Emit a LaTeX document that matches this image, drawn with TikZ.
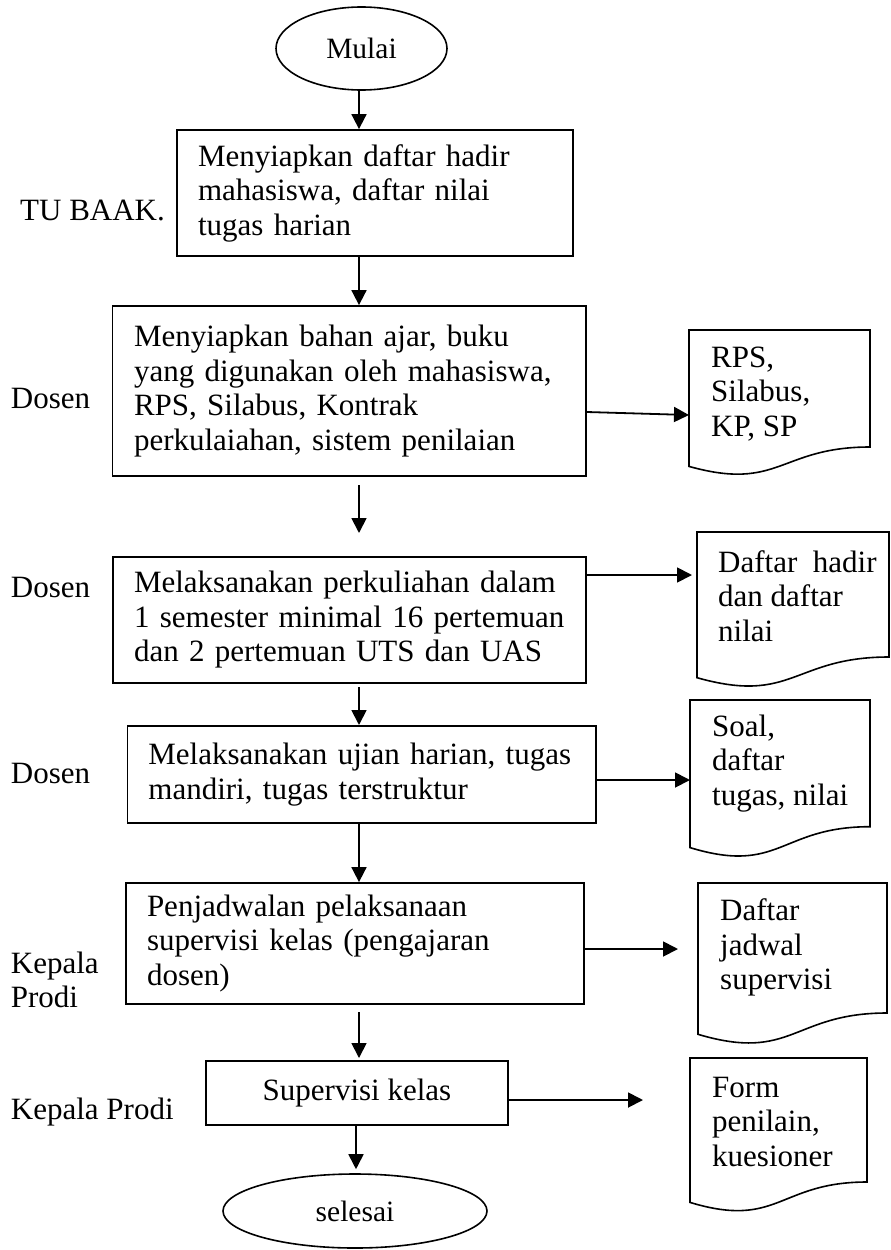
\documentclass[tikz,border=0pt]{standalone}
\usepackage{fontspec}
\setmainfont{Liberation Serif}
\usetikzlibrary{arrows.meta,shapes.geometric}
\begin{document}
\begin{tikzpicture}[x=1pt,y=-1pt,
  txt/.style={font=\fontsize{31}{34.5}\selectfont},
  procbox/.style={draw,line width=1.8pt,rectangle,align=left,inner ysep=0pt,txt},
  termin/.style={draw,ellipse,line width=1.6pt,inner sep=0pt,font=\fontsize{29.5}{34}\selectfont},
  docline/.style={draw,line width=1.6pt},
  doctext/.style={txt,align=left,anchor=west,inner sep=0pt},
  lbl/.style={txt,align=left,anchor=west,inner sep=0pt},
  arr/.style={line width=1.8pt,-{Triangle[length=15pt,width=15pt]}}
]
\useasboundingbox (0,0) rectangle (891,1250);

% terminals
\node[termin,minimum width=171pt,minimum height=83pt] (start) at (361.5,48.5) {Mulai};
\node[termin,minimum width=264pt,minimum height=74pt] (stop) at (355,1211) {selesai};

% process boxes
\node[procbox,inner xsep=21pt,text width=354pt,minimum height=126pt] (b1) at (375,193)
  {Menyiapkan daftar hadir\\mahasiswa, daftar nilai\\tugas harian};
\node[procbox,inner xsep=21.5pt,text width=430.5pt,minimum height=170pt] (b2) at (349.25,391)
  {Menyiapkan bahan ajar, buku\\yang digunakan oleh mahasiswa,\\RPS, Silabus, Kontrak\\perkulaiahan, sistem penilaian};
\node[procbox,inner xsep=21pt,text width=431pt,minimum height=126pt] (b3) at (349.5,619.7)
  {Melaksanakan perkuliahan dalam\\1 semester minimal 16 pertemuan\\dan 2 pertemuan UTS dan UAS};
\node[procbox,inner xsep=21pt,text width=426.6pt,minimum height=97pt] (b4) at (361.7,774.4)
  {Melaksanakan ujian harian, tugas\\mandiri, tugas terstruktur};
\node[procbox,inner xsep=21pt,text width=416pt,minimum height=121pt] (b5) at (355,943.5)
  {Penjadwalan pelaksanaan\\supervisi kelas (pengajaran\\dosen)};
\node[procbox,align=center,inner sep=0pt,minimum width=302pt,minimum height=64pt] (b6) at (357,1093)
  {Supervisi kelas};

% role labels
\node[lbl] (l1) at (20,210) {TU BAAK.};
\node[lbl] (l2) at (10.7,398) {Dosen};
\node[lbl] (l3) at (10.7,587) {Dosen};
\node[lbl] (l4) at (10.7,773) {Dosen};
\node[lbl] (l5) at (10.7,980) {Kepala\\Prodi};
\node[lbl] (l6) at (10.7,1112) {Kepala Prodi};

% documents
\draw[docline] (689,330) -- (870,330) -- (870,447) .. controls (779.5,447) and (779.5,491.7) .. (689,466.4) -- cycle;
\draw[docline] (697,532) -- (889,532) -- (889,657) .. controls (793,657) and (793,704.8) .. (697,677.7) -- cycle;
\draw[docline] (690,700) -- (870,700) -- (870,826.7) .. controls (780,826.7) and (780,875) .. (690,847.6) -- cycle;
\draw[docline] (698,883) -- (887,883) -- (887,1013) .. controls (792.5,1013) and (792.5,1062.4) .. (698,1034.3) -- cycle;
\draw[docline] (690,1058) -- (867,1058) -- (867,1182) .. controls (778.5,1182) and (778.5,1229.2) .. (690,1202.4) -- cycle;

\node[doctext] (d1) at (711,394) {RPS,\\Silabus,\\KP, SP};
\node[doctext] (d2) at (718,596) {Daftar\ \ hadir\\dan daftar\\nilai};
\node[doctext] (d3) at (712,763.5) {Soal,\\daftar\\tugas, nilai};
\node[doctext] (d4) at (720,947.5) {Daftar\\jadwal\\supervisi};
\node[doctext] (d5) at (712,1121.5) {Form\\penilain,\\kuesioner};

% arrow end points
\coordinate (cx) at (359,0);
\coordinate (e1) at (689,415);
\coordinate (e2) at (692,575);
\coordinate (e3) at (690,780);
\coordinate (e4) at (678,949);
\coordinate (e5) at (643,1100);
\coordinate (f1) at (359,485);
\coordinate (f2) at (359,533);
\coordinate (f3) at (359,687);
\coordinate (f4) at (359,1012);
\coordinate (f5) at (359,1058);

% vertical flow
\draw[arr] (start.south -| cx) -- (b1.north -| cx);
\draw[arr] (b1.south -| cx) -- (b2.north -| cx);
\draw[arr] (f1) -- (f2);
\draw[arr] (f3) -- (b4.north -| cx);
\draw[arr] (b4.south -| cx) -- (b5.north -| cx);
\draw[arr] (f4) -- (f5);
\draw[arr,shorten >=4pt] ([xshift=-1pt]b6.south) -- ([xshift=1pt]stop.north);

% horizontal flow
\draw[arr] ([yshift=-21pt]b2.east) -- (e1);
\draw[arr] (b3.east |- e2) -- (e2);
\draw[arr] (b4.east |- e3) -- (e3);
\draw[arr] (b5.east |- e4) -- (e4);
\draw[arr] (b6.east |- e5) -- (e5);
\end{tikzpicture}
\end{document}
